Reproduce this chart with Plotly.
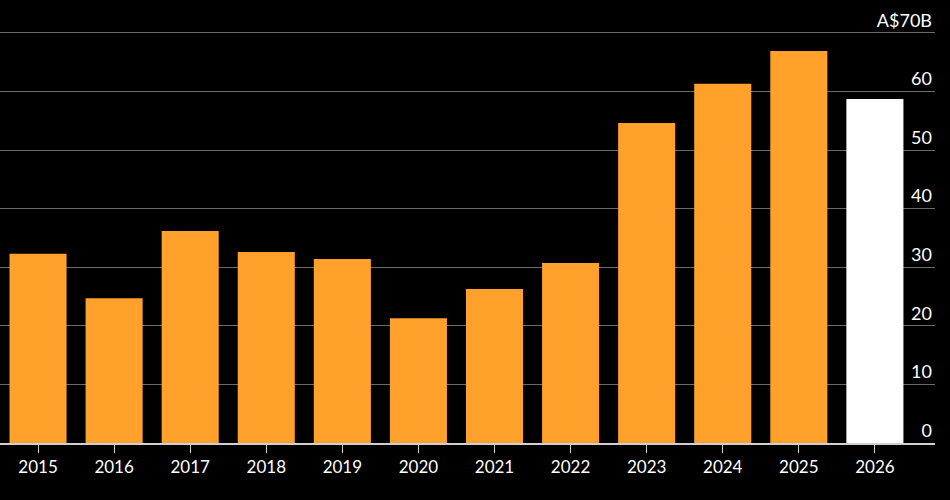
import plotly.graph_objects as go

years = ["2015", "2016", "2017", "2018", "2019", "2020", "2021", "2022", "2023", "2024", "2025", "2026"]
values = [32.3, 24.7, 36.2, 32.6, 31.4, 21.3, 26.3, 30.7, 54.6, 61.3, 66.9, 58.7]
bar_colors = ["#FFA12B"] * 11 + ["#FFFFFF"]
tick_vals = [0, 10, 20, 30, 40, 50, 60, 70]
tick_text = ["0", "10", "20", "30", "40", "50", "60", "A$70B"]

fig = go.Figure(go.Bar(x=years, y=values, marker=dict(color=bar_colors, line=dict(width=0)), width=0.75))

fig.update_layout(
    width=950, height=500,
    paper_bgcolor="#000000", plot_bgcolor="#000000",
    margin=dict(l=0, r=15, t=0, b=57),
    font=dict(family="Lato, 'Open Sans', sans-serif", color="#FFFFFF", size=18),
    showlegend=False,
    bargap=0.25,
)
fig.update_xaxes(
    type="category", range=[-0.5, 11.79],
    showgrid=False, showline=True, linecolor="#D0D0D0", linewidth=1.5,
    ticks="outside", ticklen=8, tickcolor="#D0D0D0", tickwidth=1,
    tickfont=dict(size=17, color="#FFFFFF"),
)
fig.update_yaxes(
    side="right", range=[0, 75.6], tickvals=tick_vals, ticktext=tick_text,
    ticklabelposition="inside top", showgrid=True, gridcolor="#6A6A6A", gridwidth=1,
    zeroline=False, showline=False, ticks="",
    tickfont=dict(size=18, color="#FFFFFF"),
)

fig.write_html("out.html", config={"displayModeBar": False},
               post_script="document.body.style.margin='0';document.body.style.background='#000';")
